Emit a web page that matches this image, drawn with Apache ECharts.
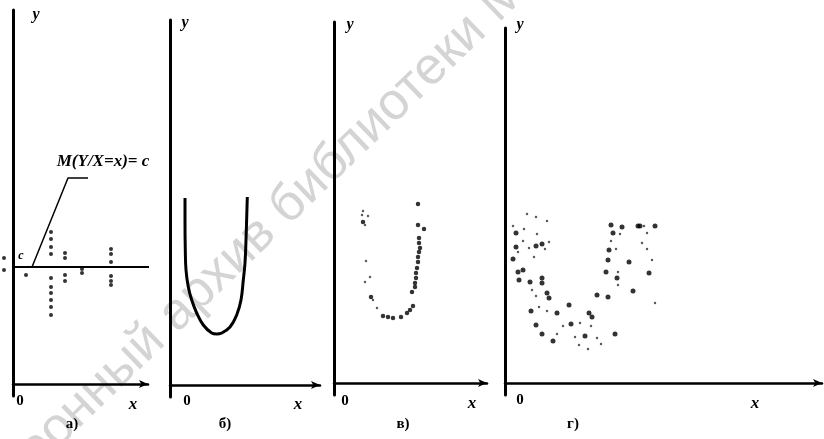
<!DOCTYPE html>
<html>
<head>
<meta charset="utf-8">
<title>Условное математическое ожидание</title>
<script src="https://cdn.jsdelivr.net/npm/echarts@6/dist/echarts.min.js"></script>
<style>
  html, body { margin: 0; padding: 0; background: #fff; }
  #chart { width: 824px; height: 439px; }
</style>
</head>
<body>
<div id="chart"></div>
<script>
// а) точки столбиками вокруг прямой y = c
let levelC = 11.7;
let pointsA = [
  [3.8, 15.2], [3.8, 14.5], [3.8, 13.7], [3.8, 13.0], [3.8, 10.6], [3.8, 9.7],
  [3.8, 9.1], [3.8, 8.4], [3.8, 7.7], [3.8, 6.9],
  [5.2, 13.1], [5.2, 12.6], [5.2, 10.9], [5.2, 10.3],
  [6.9, 11.5], [6.9, 11.1],
  [9.8, 13.5], [9.8, 13.0], [9.8, 12.2], [9.8, 10.8], [9.8, 10.3], [9.8, 9.9],
  [1.3, 10.9], [-0.9, 12.6], [-0.9, 11.4]
];
let lineC = [[-0.8, levelC], [14.4, levelC]];
let leaderA = [[1.9, levelC], [5.5, 20.6], [7.5, 20.6]];

// б) кривая
let curveB = [
  [1.5, 18.7], [1.5, 16.2], [1.53, 13.5], [1.6, 11.5], [1.83, 9.8], [2.17, 8.5],
  [2.67, 7.2], [3.33, 6.0], [4.17, 5.2], [4.67, 5.1], [5.17, 5.2], [6.0, 5.8],
  [6.67, 7.0], [7.1, 8.5], [7.33, 10.5], [7.5, 12.2], [7.6, 14.5], [7.73, 18.8]
];

// в) точки вдоль кривой
let pointsV = [
  [8.4, 17.9], [2.9, 16.1], [8.4, 15.8], [9.0, 15.4], [8.5, 14.5], [8.5, 14.0],
  [8.6, 13.5], [8.5, 13.1], [8.4, 12.6], [8.4, 12.1], [8.3, 11.5], [8.2, 11.0],
  [8.2, 10.5], [8.1, 10.0], [8.1, 9.6], [3.7, 8.6], [7.8, 9.1], [7.9, 7.7],
  [4.9, 6.7], [5.4, 6.6], [5.9, 6.5], [6.7, 6.6], [7.3, 7.0], [7.6, 7.3]
];
let pointsVFaint = [
  [2.9, 17.2], [2.8, 16.8], [3.4, 16.7], [3.1, 15.8], [3.2, 12.2], [3.6, 10.6],
  [3.1, 10.1], [3.9, 8.3], [4.3, 7.5]
];

// г) облако точек
let pointsG = [
  [1.1, 15.0], [3.7, 13.9], [3.1, 13.7], [1.1, 13.6], [0.8, 12.4], [1.8, 11.3],
  [1.3, 11.1], [1.4, 10.3], [2.5, 10.1], [3.7, 10.5], [3.7, 10.0], [4.2, 9.0],
  [4.4, 8.5], [2.6, 7.2], [5.2, 7.0], [6.4, 7.8], [3.1, 5.8], [3.7, 4.9],
  [4.8, 4.2], [6.6, 5.9], [8.0, 4.7], [8.4, 7.0], [8.7, 6.6], [9.2, 8.8],
  [10.3, 8.6], [11.0, 4.9], [10.1, 11.1], [11.2, 10.5], [10.3, 12.3], [10.4, 13.3],
  [10.8, 15.0], [10.6, 15.8], [11.7, 15.6], [12.4, 12.1], [13.3, 15.7], [13.5, 15.7],
  [15.0, 15.7], [14.4, 11.0], [12.8, 9.2]
];
let pointsGFaint = [
  [2.2, 16.9], [3.1, 16.6], [4.2, 16.2], [0.8, 15.7], [1.9, 15.4], [3.2, 14.9],
  [1.8, 14.2], [4.4, 14.1], [2.4, 13.5], [1.3, 13.1], [4.0, 13.4], [2.9, 12.6],
  [2.7, 9.3], [3.1, 8.7], [3.4, 7.6], [4.2, 7.2], [5.2, 4.9], [5.8, 5.7],
  [7.5, 6.0], [7.0, 4.6], [7.4, 3.8], [8.3, 3.4], [8.6, 5.7], [9.2, 4.5],
  [9.6, 3.9], [11.3, 9.8], [11.1, 13.4], [10.6, 14.2], [11.5, 14.9], [13.9, 15.7],
  [14.2, 15.0], [14.2, 13.4], [14.7, 12.3], [13.7, 14.0], [15.0, 8.0], [11.3, 11.1]
];

// пределы осей панелей
let xMax = [13.5, 15, 15.3, 31.7];
let yMin = [-1.2, -1.2, -1.2, -1.2];
let yMax = [37.4, 36.5, 36.1, 35.5];
let panelNames = ['а)', 'б)', 'в)', 'г)'];
let labelC = 'c';
let labelM = 'M(Y/X=x)= c';
let watermark = 'Электронный архив библиотеки МИИТ';

const serif = '"Liberation Serif", "DejaVu Serif", serif';

function makeX (i) {
  return {
    type: 'value', gridIndex: i, min: 0, max: xMax[i],
    axisLine: {
      show: true, onZero: true,
      lineStyle: { color: '#000', width: 2.5 },
      symbol: ['none', 'arrow'], symbolSize: [6, 9]
    },
    axisTick: { show: false }, axisLabel: { show: false }, splitLine: { show: false }
  };
}

function makeY (i) {
  return {
    type: 'value', gridIndex: i, min: yMin[i], max: yMax[i],
    axisLine: { show: true, onZero: true, lineStyle: { color: '#000', width: 3 } },
    axisTick: { show: false }, axisLabel: { show: false }, splitLine: { show: false }
  };
}

function dots (i, data, size, color) {
  return {
    type: 'scatter', xAxisIndex: i, yAxisIndex: i, data: data,
    symbol: 'circle', symbolSize: size, clip: false, silent: true,
    itemStyle: { color: color }
  };
}

function label (x, y, text, size, style) {
  return {
    type: 'text', x: x, y: y, z: 10,
    style: {
      text: text, fontFamily: serif, fontSize: size, fontWeight: 'bold',
      fontStyle: style || 'normal', fill: '#000', align: 'center', verticalAlign: 'middle'
    }
  };
}

let option = {
  backgroundColor: '#fff',
  animation: false,
  grid: [
    { left: 13, top: 10, width: 135, height: 386, outerBoundsMode: 'none' },
    { left: 170, top: 20, width: 150, height: 377, outerBoundsMode: 'none' },
    { left: 334, top: 22, width: 153, height: 373, outerBoundsMode: 'none' },
    { left: 505, top: 28, width: 317, height: 367, outerBoundsMode: 'none' }
  ],
  xAxis: [makeX(0), makeX(1), makeX(2), makeX(3)],
  yAxis: [makeY(0), makeY(1), makeY(2), makeY(3)],
  series: [
    {
      type: 'line', xAxisIndex: 0, yAxisIndex: 0, data: lineC, symbol: 'none',
      clip: false, silent: true, lineStyle: { color: '#000', width: 2 }
    },
    {
      type: 'line', xAxisIndex: 0, yAxisIndex: 0, data: leaderA, symbol: 'none',
      clip: false, silent: true, lineStyle: { color: '#000', width: 1.5 }
    },
    dots(0, pointsA, 4, '#000'),
    {
      type: 'line', xAxisIndex: 1, yAxisIndex: 1, data: curveB, symbol: 'none',
      smooth: 0.4, silent: true, lineStyle: { color: '#000', width: 3 }
    },
    dots(2, pointsV, 4.5, '#000'),
    dots(2, pointsVFaint, 2.5, '#333'),
    dots(3, pointsG, 5, '#000'),
    dots(3, pointsGFaint, 2.5, '#333')
  ],
  graphic: [
    {
      type: 'text', x: -76, y: 558, rotation: 44 * Math.PI / 180, z: -1, silent: true,
      style: {
        text: watermark, fontFamily: '"Liberation Sans", Arial, sans-serif',
        fontSize: 52, fill: '#d4d4d4', align: 'left', verticalAlign: 'middle'
      }
    },
    label(36, 15, 'y', 16, 'italic'),
    label(185, 23, 'y', 16, 'italic'),
    label(350, 25, 'y', 16, 'italic'),
    label(520, 25, 'y', 16, 'italic'),
    label(20, 401, '0', 15),
    label(187, 401, '0', 15),
    label(345, 401, '0', 15),
    label(520, 400, '0', 15),
    label(133, 405, 'x', 17, 'italic'),
    label(298, 405, 'x', 17, 'italic'),
    label(472, 404, 'x', 17, 'italic'),
    label(755, 404, 'x', 17, 'italic'),
    label(72, 424, panelNames[0], 15),
    label(225, 424, panelNames[1], 15),
    label(403, 424, panelNames[2], 15),
    label(573, 424, panelNames[3], 15),
    label(21, 256, labelC, 12, 'italic'),
    label(103, 162, labelM, 17, 'italic')
  ]
};

let myChart = echarts.init(document.getElementById('chart'));
myChart.setOption(option);
</script>
</body>
</html>
